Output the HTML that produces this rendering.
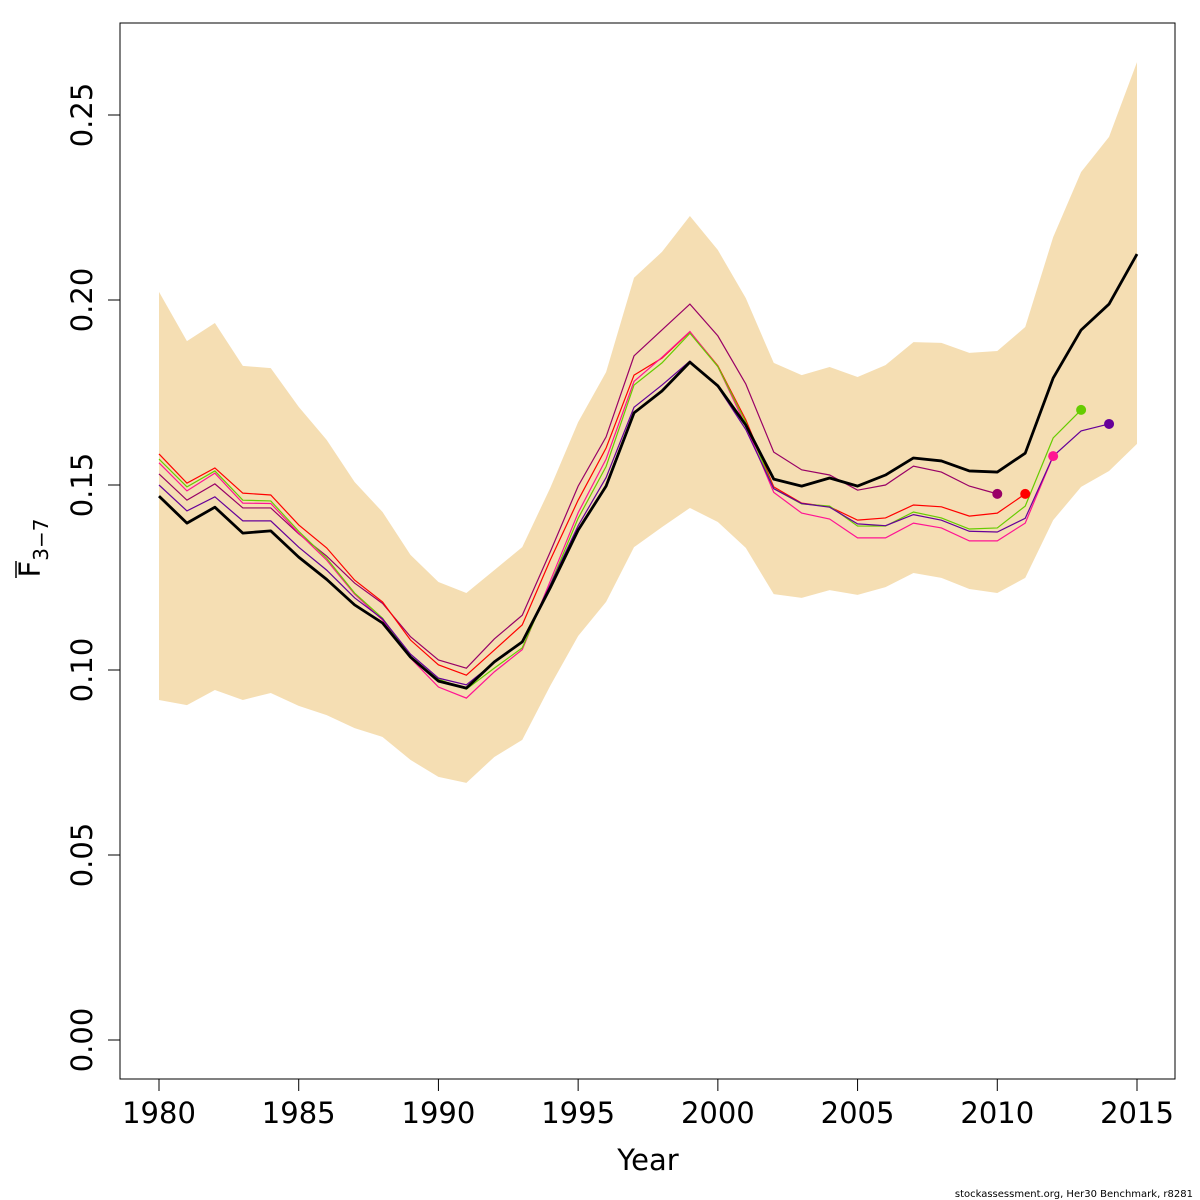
<!DOCTYPE html>
<html><head><meta charset="utf-8"><style>
html,body{margin:0;padding:0;background:#fff;}
svg{display:block;font-family:"DejaVu Sans","Liberation Sans",sans-serif;}
</style></head><body>
<svg id="chart" width="1200" height="1200" viewBox="0 0 1200 1200"></svg>
<script>
const years=[1980,1981,1982,1983,1984,1985,1986,1987,1988,1989,1990,1991,1992,1993,1994,1995,1996,1997,1998,1999,2000,2001,2002,2003,2004,2005,2006,2007,2008,2009,2010,2011,2012,2013,2014,2015];
const fMain=[.147,.1397,.144,.137,.1376,.1305,.1245,.1176,.1127,.1035,.097,.0951,.1022,.1076,.1222,.1378,.1497,.1695,.1754,.1832,.1768,.1662,.1516,.1497,.1519,.1497,.1527,.1573,.1565,.1538,.1535,.1586,.1789,.1919,.1989,.2124];
const fUpper=[.2022,.1889,.1938,.1822,.1816,.1711,.1622,.1508,.1427,.1311,.1238,.1208,.127,.1332,.1492,.167,.1805,.206,.213,.2227,.2135,.2005,.183,.1797,.1819,.1792,.1824,.1886,.1884,.1857,.1862,.1927,.217,.2346,.2441,.2643];
const fLower=[.0919,.0905,.0946,.0919,.0938,.0903,.0878,.0843,.0819,.0757,.0711,.0695,.0765,.0811,.0957,.1092,.1184,.1332,.1386,.1438,.14,.133,.1205,.1195,.1216,.1203,.1224,.1262,.1249,.1219,.1208,.1249,.1405,.1495,.1538,.1611];
const retro2010=[.153,.1459,.1503,.1438,.1438,.1368,.1308,.1235,.118,.109,.1027,.1005,.1084,.1148,.1319,.1497,.163,.1849,.1919,.1989,.1903,.1773,.1589,.1541,.1527,.1486,.15,.1551,.1535,.1497,.1476];
const retro2011=[.1584,.1505,.1546,.1478,.1473,.1392,.133,.1243,.1184,.1081,.1014,.0986,.1054,.1122,.1297,.1459,.16,.1797,.1843,.1914,.1822,.1676,.1495,.1451,.1441,.1405,.1411,.1446,.1441,.1416,.1424,.1476];
const retro2012=[.156,.1484,.1532,.1451,.145,.137,.1297,.1205,.1135,.1032,.0954,.0924,.0995,.1055,.124,.1425,.157,.178,.1845,.1915,.182,.166,.148,.1424,.1408,.1357,.1357,.1397,.1384,.1349,.1349,.1397,.1578];
const retro2013=[.157,.1495,.1538,.1459,.1457,.1375,.1302,.1208,.114,.1035,.0975,.0948,.1005,.106,.123,.141,.155,.177,.183,.191,.182,.167,.149,.1449,.1443,.1389,.1389,.1427,.1411,.1381,.1384,.1443,.1627,.1703];
const retro2014=[.15,.143,.1468,.1403,.1403,.1332,.127,.1195,.1138,.1043,.0978,.096,.102,.1075,.123,.139,.152,.171,.177,.1835,.1765,.165,.149,.145,.144,.1395,.139,.142,.1405,.1375,.1373,.141,.1578,.1646,.1665];
const retros=[[retro2010,'#990066','retro-2010'],[retro2011,'#ff0000','retro-2011'],[retro2012,'#ff1493','retro-2012'],[retro2013,'#66cc00','retro-2013'],[retro2014,'#660099','retro-2014']];
const xTicks=[1980,1985,1990,1995,2000,2005,2010,2015];
const yTicks=[0,0.05,0.10,0.15,0.20,0.25];
const yTickLabels=['0.00','0.05','0.10','0.15','0.20','0.25'];

const X=y=>159+(y-1980)*(978/35);
const Y=v=>1040-v*3700;
const svg=document.getElementById('chart');
const NS='http://www.w3.org/2000/svg';
function mk(tag,attrs,parent){const e=document.createElementNS(NS,tag);for(const k in attrs)e.setAttribute(k,attrs[k]);(parent||svg).appendChild(e);return e;}

let pts=years.map((y,i)=>X(y)+','+Y(fUpper[i]));
for(let i=years.length-1;i>=0;i--)pts.push(X(years[i])+','+Y(fLower[i]));
const band=mk('polygon',{points:pts.join(' '),fill:'#f5deb3',stroke:'none'});



retros.forEach(([vals,col,name])=>{
  const p=vals.map((v,i)=>X(years[i])+','+Y(v)).join(' ');
  const l=mk('polyline',{points:p,fill:'none',stroke:col,'stroke-width':1.2});
  
  
});
retros.forEach(([vals,col,name])=>{
  const i=vals.length-1;
  const c=mk('circle',{cx:X(years[i]),cy:Y(vals[i]),r:5,fill:col});
  
  
});
const ml=mk('polyline',{points:fMain.map((v,i)=>X(years[i])+','+Y(v)).join(' '),fill:'none',stroke:'#000','stroke-width':2.8,'stroke-linejoin':'round'});



const box=mk('rect',{x:120,y:23,width:1055,height:1056,fill:'none',stroke:'#000','stroke-width':1});



const xa=mk('g',{});


mk('line',{x1:X(1980),x2:X(2015),y1:1079,y2:1079,stroke:'#000'},xa);
xTicks.forEach(t=>{
  mk('line',{x1:X(t),x2:X(t),y1:1079,y2:1091,stroke:'#000'},xa);
  const tx=mk('text',{x:X(t),y:1123,'font-size':29,'text-anchor':'middle'},xa);
  tx.textContent=t;
  
  
});
const ya=mk('g',{});


mk('line',{x1:120,x2:120,y1:Y(0),y2:Y(0.25),stroke:'#000'},ya);
yTicks.forEach((t,i)=>{
  mk('line',{x1:108,x2:120,y1:Y(t),y2:Y(t),stroke:'#000'},ya);
  const tx=mk('text',{x:92,y:Y(t),'font-size':29,'text-anchor':'middle',transform:`rotate(-90 92 ${Y(t)})`},ya);
  tx.textContent=yTickLabels[i];
  
  
});
</script>
<div style="position:absolute;left:0;top:0;width:1200px;height:1200px;pointer-events:none;">
<svg width="1200" height="1200" style="position:absolute;left:0;top:0;">
<text x="648" y="1170" font-size="29" text-anchor="middle">Year</text>
<g transform="translate(40 548) rotate(-90)">
<text x="0" y="0" font-size="29" text-anchor="middle">F<tspan font-size="20" dy="8">3−7</tspan></text>
<line x1="-30" x2="-13" y1="-24" y2="-24" stroke="#000" stroke-width="1.5"/>
</g>
<text x="1193" y="1197" font-size="10" text-anchor="end">stockassessment.org, Her30  Benchmark, r8281</text>
</svg></div>
</body></html>
